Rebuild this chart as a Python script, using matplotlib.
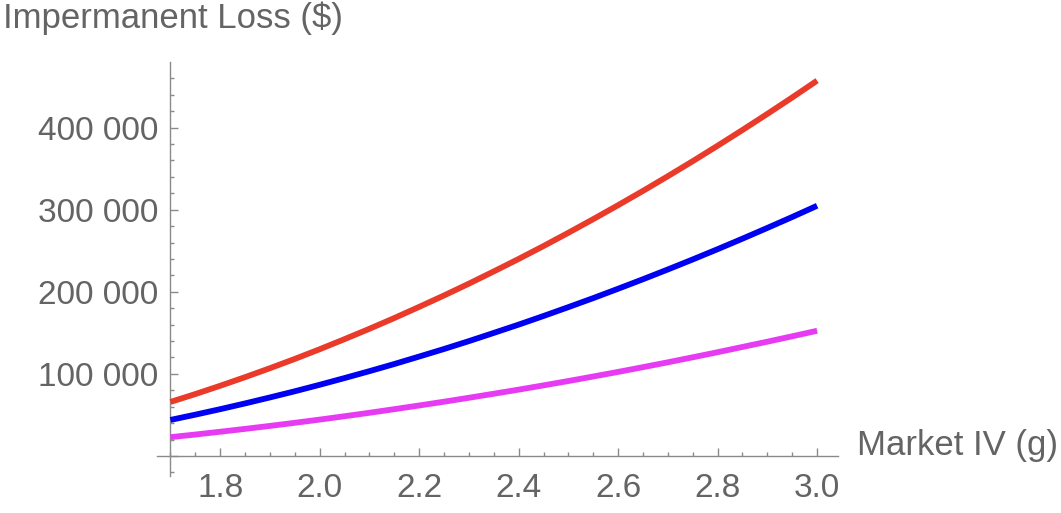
import matplotlib

matplotlib.use("Agg")
import matplotlib.pyplot as plt
from matplotlib.ticker import FuncFormatter, MultipleLocator

# values, loss in thousands of dollars
market_iv = [1.70, 1.75, 1.80, 1.85, 1.90, 1.95, 2.00, 2.05, 2.10, 2.15, 2.20,
             2.25, 2.30, 2.35, 2.40, 2.45, 2.50, 2.55, 2.60, 2.65, 2.70,
             2.75, 2.80, 2.85, 2.90, 2.95, 3.00]
loss_red = [65.8, 75.4, 85.5, 96.0, 106.9, 118.2, 130.0, 142.3, 154.9, 168.0, 181.6,
            195.5, 209.9, 224.8, 240.0, 255.7, 271.9, 288.5, 305.5, 322.9, 340.8,
            359.1, 377.9, 397.1, 416.7, 436.7, 457.2]
loss_blue = [43.9, 50.3, 57.0, 64.0, 71.3, 78.8, 86.7, 94.9, 103.3, 112.0, 121.1,
             130.3, 139.9, 149.9, 160.0, 170.5, 181.3, 192.3, 203.7, 215.3, 227.2,
             239.4, 251.9, 264.7, 277.8, 291.1, 304.8]
loss_magenta = [22.9, 26.1, 29.5, 33.0, 36.6, 40.4, 44.3, 48.4, 52.6, 57.0, 61.5,
                66.1, 70.9, 75.8, 80.8, 86.0, 91.3, 96.8, 102.4, 108.2, 114.1,
                120.2, 126.4, 132.8, 139.2, 145.8, 152.5]

series = [
    (loss_red, "#EA3A29"),
    (loss_blue, "#0000F2"),
    (loss_magenta, "#E63BF2"),
]

TEXT_COLOR = "#646464"
AXIS_COLOR = "#8a8a8a"
W, H = 1061, 513

plt.rcParams["font.family"] = ["Liberation Sans", "DejaVu Sans"]

fig = plt.figure(figsize=(W / 100, H / 100), dpi=100)
ax = fig.add_axes([157 / W, 1 - 476 / H, (838 - 157) / W, (476 - 62) / H])

for values, color in series:
    ax.plot(market_iv, [v * 1000 for v in values], color=color, lw=4.2,
            solid_capstyle="butt", solid_joinstyle="round", zorder=3)

ax.set_xlim(1.673, 3.042)
ax.set_ylim(-24400, 479900)

for side in ("top", "right"):
    ax.spines[side].set_visible(False)
ax.spines["left"].set_position(("data", 1.7))
ax.spines["bottom"].set_position(("data", 0))
for side in ("left", "bottom"):
    ax.spines[side].set_color(AXIS_COLOR)
    ax.spines[side].set_linewidth(1.0)

ax.xaxis.set_major_locator(MultipleLocator(0.2))
ax.xaxis.set_minor_locator(MultipleLocator(0.05))
ax.yaxis.set_major_locator(MultipleLocator(100000))
ax.yaxis.set_minor_locator(MultipleLocator(20000))
ax.xaxis.set_major_formatter(FuncFormatter(lambda v, _: f"{v:.1f}"))
ax.yaxis.set_major_formatter(
    FuncFormatter(lambda v, _: "" if v <= 0 else f"{int(round(v)):,}".replace(",", " "))
)

ax.tick_params(which="both", direction="in", color=AXIS_COLOR, width=1.0)
ax.tick_params(which="major", length=5.5, labelsize=24, labelcolor=TEXT_COLOR)
ax.tick_params(which="minor", length=3.2)
ax.tick_params(axis="x", which="major", pad=12)
ax.tick_params(axis="y", which="major", pad=8.5)

# keep only the x ticks right of the y axis
ax.set_xticks([t for t in ax.get_xticks() if 1.7 <= t <= 3.04])

fig.text(3 / W, 1 - 28 / H, "Impermanent Loss ($)", fontsize=25,
         color=TEXT_COLOR, ha="left", va="baseline")
fig.text(857 / W, 1 - 455 / H, "Market IV (g)", fontsize=25,
         color=TEXT_COLOR, ha="left", va="baseline")

fig.savefig("out.png", dpi=100)
